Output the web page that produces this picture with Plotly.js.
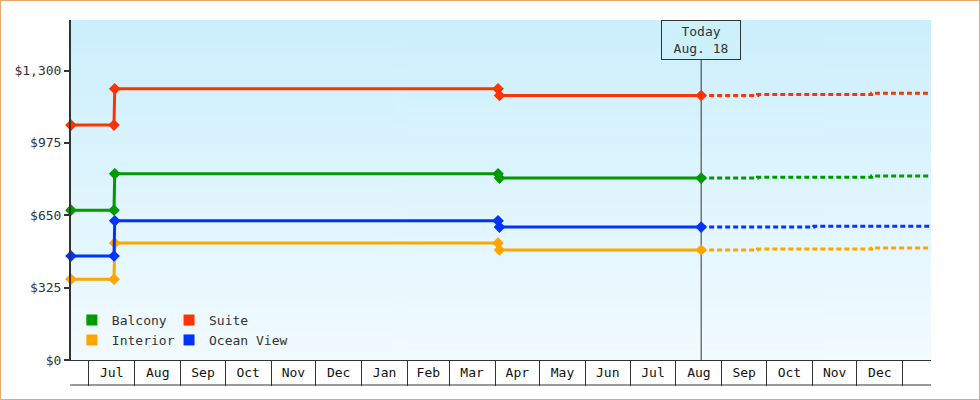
<!DOCTYPE html>
<html>
<head>
<meta charset="utf-8">
<script src="https://cdn.plot.ly/plotly-3.0.1.min.js"></script>
<style>
  html, body { margin: 0; padding: 0; background: #fff; }
  #frame { width: 978px; height: 398px; border: 1px solid #e8aa6a; }
</style>
</head>
<body>
<div id="frame"><div id="chart"></div></div>
<script>
// price history (solid) shared dates
const HISTORY_DATES = ["2014-06-19", "2014-07-18", "2014-07-18 12:00", "2015-04-03", "2015-04-04", "2015-08-18"];
const BALCONY_HISTORY = [673, 673, 836, 836, 817, 817];
const SUITE_HISTORY = [1055, 1055, 1218, 1218, 1188, 1188];
const INTERIOR_HISTORY = [363, 363, 525, 525, 494, 494];
const OCEAN_HISTORY = [467, 467, 625, 625, 597, 597];

// forecast (dashed)
const FORECAST_DATES = ["2015-08-18", "2015-09-25", "2015-12-11", "2016-01-20"];
const BALCONY_FORECAST = [817, 821, 826, 826];
const SUITE_FORECAST = [1188, 1192, 1198, 1198];
const INTERIOR_FORECAST = [494, 498, 503, 503];
const OCEAN_FORECAST_DATES = ["2015-08-18", "2015-11-02", "2016-01-20"];
const OCEAN_FORECAST = [597, 601, 601];

const TODAY = "2015-08-18";
const TODAY_LABEL = "Today<br>Aug. 18";

const MONTH_STARTS = [
  "2014-07-01", "2014-08-01", "2014-09-01", "2014-10-01", "2014-11-01", "2014-12-01",
  "2015-01-01", "2015-02-01", "2015-03-01", "2015-04-01", "2015-05-01", "2015-06-01",
  "2015-07-01", "2015-08-01", "2015-09-01", "2015-10-01", "2015-11-01", "2015-12-01",
  "2016-01-01",
];
const MONTH_LABELS = ["Jul", "Aug", "Sep", "Oct", "Nov", "Dec", "Jan", "Feb", "Mar",
  "Apr", "May", "Jun", "Jul", "Aug", "Sep", "Oct", "Nov", "Dec"];

const Y_TICKS = [0, 325, 650, 975, 1300];
const Y_TICK_LABELS = ["$0", "$325", "$650", "$975", "$1,300"];

const COLORS = {
  Balcony: "#009900",
  Suite: "#ff3300",
  Interior: "#ffa500",
  "Ocean View": "#0033ff",
};

const FONT = "'DejaVu Sans Mono', 'Liberation Mono', monospace";

// label each month in the middle of its cell
const monthMids = MONTH_LABELS.map((_, i) => {
  const a = new Date(MONTH_STARTS[i] + "T00:00:00Z").getTime();
  const b = new Date(MONTH_STARTS[i + 1] + "T00:00:00Z").getTime();
  return new Date((a + b) / 2).toISOString().slice(0, 19).replace("T", " ");
});

function gradientImage() {
  const c = document.createElement("canvas");
  c.width = 4;
  c.height = 256;
  const ctx = c.getContext("2d");
  const g = ctx.createLinearGradient(0, 0, 0, 256);
  g.addColorStop(0, "#cbeffc");
  g.addColorStop(1, "#f2fbff");
  ctx.fillStyle = g;
  ctx.fillRect(0, 0, 4, 256);
  return c.toDataURL("image/png");
}

function history(name, y) {
  return {
    type: "scatter",
    mode: "lines+markers",
    name: name,
    x: HISTORY_DATES,
    y: y,
    line: { color: COLORS[name], width: 3 },
    marker: { color: COLORS[name], symbol: "diamond", size: 9 },
    cliponaxis: false,
    showlegend: false,
    hoverinfo: "x+y",
  };
}

function forecast(name, x, y) {
  return {
    type: "scatter",
    mode: "lines",
    name: name,
    x: x,
    y: y,
    line: { color: COLORS[name], width: 3, dash: "5px,3px", shape: "hv" },
    showlegend: false,
    hoverinfo: "x+y",
  };
}

function legendEntry(name, legend) {
  return {
    type: "scatter",
    mode: "markers",
    name: name,
    x: [null],
    y: [null],
    legend: legend,
    marker: { color: COLORS[name], symbol: "square", size: 11, line: { width: 0 } },
  };
}

const data = [
  forecast("Interior", FORECAST_DATES, INTERIOR_FORECAST),
  forecast("Ocean View", OCEAN_FORECAST_DATES, OCEAN_FORECAST),
  forecast("Balcony", FORECAST_DATES, BALCONY_FORECAST),
  forecast("Suite", FORECAST_DATES, SUITE_FORECAST),
  history("Interior", INTERIOR_HISTORY),
  history("Ocean View", OCEAN_HISTORY),
  history("Balcony", BALCONY_HISTORY),
  history("Suite", SUITE_HISTORY),
  legendEntry("Balcony", "legend"),
  legendEntry("Interior", "legend"),
  legendEntry("Suite", "legend2"),
  legendEntry("Ocean View", "legend2"),
];

const legendStyle = {
  bgcolor: "rgba(0,0,0,0)",
  borderwidth: 0,
  font: { family: FONT, size: 13, color: "#333" },
  yanchor: "middle",
  y: 0.088,
  xanchor: "left",
  tracegroupgap: 0,
};

const layout = {
  width: 978,
  height: 398,
  margin: { l: 70, r: 48, t: 19, b: 39 },
  paper_bgcolor: "#fff",
  plot_bgcolor: "rgba(0,0,0,0)",
  font: { family: FONT, size: 13, color: "#333" },
  showlegend: true,
  legend: Object.assign({}, legendStyle, { x: 0.001 }),
  legend2: Object.assign({}, legendStyle, { x: 0.114 }),
  hovermode: "closest",
  xaxis: {
    type: "date",
    range: ["2014-06-19", "2016-01-20"],
    tickmode: "array",
    tickvals: monthMids,
    ticktext: MONTH_LABELS,
    ticks: "",
    ticklabelstandoff: 0,
    showline: true,
    linecolor: "#333",
    linewidth: 1,
    showgrid: false,
    zeroline: false,
    minor: {
      tickmode: "array",
      tickvals: MONTH_STARTS,
      ticks: "outside",
      ticklen: 25,
      tickwidth: 1,
      tickcolor: "#333",
      showgrid: false,
    },
    tickfont: { family: FONT, size: 13, color: "#111" },
  },
  yaxis: {
    range: [0, 1527],
    tickmode: "array",
    tickvals: Y_TICKS,
    ticktext: Y_TICK_LABELS,
    ticks: "outside",
    ticklen: 5,
    tickwidth: 2,
    tickcolor: "#333",
    showline: true,
    linecolor: "#333",
    linewidth: 2,
    showgrid: false,
    zeroline: false,
    tickfont: { family: FONT, size: 13, color: "#333" },
  },
  images: [
    {
      source: gradientImage(),
      xref: "paper",
      yref: "paper",
      x: 0,
      y: 1,
      sizex: 1,
      sizey: 1,
      sizing: "stretch",
      xanchor: "left",
      yanchor: "top",
      layer: "below",
    },
  ],
  shapes: [
    {
      type: "line",
      xref: "x",
      yref: "paper",
      x0: TODAY,
      x1: TODAY,
      y0: 0,
      y1: 0.882,
      line: { color: "#333", width: 1 },
      layer: "below",
    },
    {
      type: "line",
      xref: "paper",
      yref: "paper",
      x0: -0.001,
      x1: 1,
      y0: -25 / 340,
      y1: -25 / 340,
      line: { color: "#333", width: 1 },
    },
  ],
  annotations: [
    {
      x: TODAY,
      xref: "x",
      y: 1,
      yref: "paper",
      yanchor: "top",
      xanchor: "center",
      text: TODAY_LABEL,
      showarrow: false,
      width: 78,
      height: 38,
      borderpad: 0,
      bordercolor: "#333",
      borderwidth: 1,
      bgcolor: "#ccf0fc",
      font: { family: FONT, size: 13, color: "#333" },
    },
  ],
};

Plotly.newPlot("chart", data, layout, { displayModeBar: false, staticPlot: true });
</script>
</body>
</html>
